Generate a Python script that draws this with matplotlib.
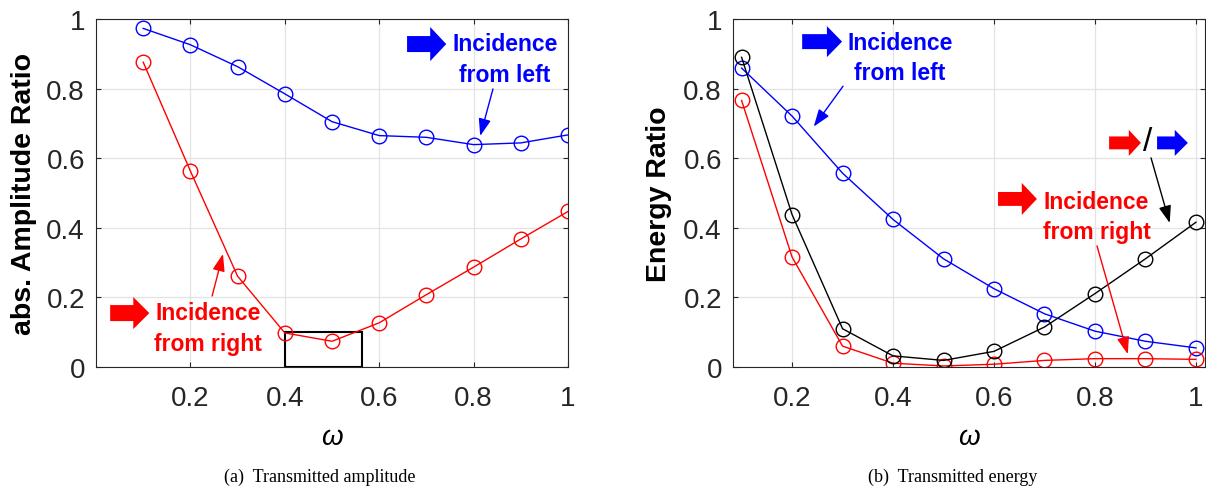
import matplotlib
matplotlib.use("Agg")
import matplotlib.pyplot as plt
import matplotlib.patches as mpatches

plt.rcParams['font.family'] = ['Liberation Sans', 'DejaVu Sans']

# frequencies
omega = [0.1, 0.2, 0.3, 0.4, 0.5, 0.6, 0.7, 0.8, 0.9, 1.0]

# (a) transmitted amplitude
amp_left = [0.973, 0.926, 0.863, 0.785, 0.705, 0.665, 0.660, 0.639, 0.644, 0.667]
amp_right = [0.876, 0.563, 0.261, 0.098, 0.074, 0.127, 0.208, 0.287, 0.368, 0.447]

# (b) transmitted energy
energy_left = [0.859, 0.721, 0.557, 0.424, 0.311, 0.225, 0.153, 0.103, 0.074, 0.055]
energy_right = [0.766, 0.316, 0.060, 0.011, 0.003, 0.008, 0.019, 0.024, 0.024, 0.022]
energy_ratio = [0.890, 0.438, 0.110, 0.032, 0.019, 0.045, 0.115, 0.211, 0.311, 0.416]

xticks = [0.2, 0.4, 0.6, 0.8, 1.0]
xtick_labels = ["0.2", "0.4", "0.6", "0.8", "1"]
yticks = [0, 0.2, 0.4, 0.6, 0.8, 1.0]
ytick_labels = ["0", "0.2", "0.4", "0.6", "0.8", "1"]

DARK = "#262626"


def style_axes(ax, xlim):
    ax.set_xlim(*xlim)
    ax.set_ylim(0, 1)
    ax.set_xticks(xticks)
    ax.set_xticklabels(xtick_labels)
    ax.set_yticks(yticks)
    ax.set_yticklabels(ytick_labels)
    ax.grid(True, color="#e3e3e3", lw=0.9)
    ax.set_axisbelow(True)
    for s in ax.spines.values():
        s.set_color(DARK)
        s.set_linewidth(0.8)
    ax.tick_params(direction="in", length=3.5, width=0.8, color=DARK,
                   labelsize=20, labelcolor=DARK, top=True, right=True)
    ax.tick_params(axis="x", pad=13)
    ax.tick_params(axis="y", pad=8)


def curve(ax, y, color):
    ax.plot(omega, y, "-o", color=color, lw=1.0, ms=10.5, mfc="none", mew=1.0)


def block_arrow(ax, x, y, length, head_len, width, head_w, color):
    ax.add_patch(mpatches.FancyArrow(x, y, length, 0, width=width, head_width=head_w,
                                     head_length=head_len, length_includes_head=True,
                                     color=color, lw=0))


def thin_arrow(ax, start, end, color):
    ax.annotate("", xy=end, xytext=start,
                arrowprops=dict(arrowstyle="-|>,head_length=0.7,head_width=0.25",
                                color=color, lw=1.0, mutation_scale=15,
                                shrinkA=0, shrinkB=0))


def label(ax, x, y, s, color):
    ax.text(x, y, s, color=color, fontsize=16.5, fontweight="bold", ha="center",
            va="center", linespacing=1.4)


fig = plt.figure(figsize=(12.06, 4.89), dpi=100)
ax1 = fig.add_axes([0.0796, 0.2474, 0.3914, 0.7117])
ax2 = fig.add_axes([0.6078, 0.2474, 0.3914, 0.7117])

# ---- (a) amplitude
style_axes(ax1, (0, 1))
curve(ax1, amp_left, "blue")
curve(ax1, amp_right, "red")
ax1.add_patch(mpatches.Rectangle((0.4, 0), 0.1625, 0.101, fill=False, ec="black", lw=1.5))

block_arrow(ax1, 0.659, 0.928, 0.083, 0.034, 0.046, 0.098, "blue")
label(ax1, 0.866, 0.885, "Incidence\nfrom left", "blue")
thin_arrow(ax1, (0.841, 0.799), (0.814, 0.664), "blue")

block_arrow(ax1, 0.030, 0.155, 0.083, 0.034, 0.046, 0.092, "red")
label(ax1, 0.237, 0.112, "Incidence\nfrom right", "red")
thin_arrow(ax1, (0.246, 0.204), (0.269, 0.325), "red")

ax1.set_ylabel("abs. Amplitude Ratio", fontsize=20.5, fontweight="bold", color="black")
ax1.yaxis.set_label_coords(-0.125, 0.5)
ax1.set_xlabel("ω", fontsize=20, fontstyle="italic", color="black", va="baseline")
ax1.xaxis.set_label_coords(0.5, -0.22)

# ---- (b) energy
style_axes(ax2, (0.083, 1.018))
curve(ax2, energy_left, "blue")
curve(ax2, energy_right, "red")
curve(ax2, energy_ratio, "black")

block_arrow(ax2, 0.220, 0.935, 0.079, 0.030, 0.043, 0.089, "blue")
label(ax2, 0.414, 0.890, "Incidence\nfrom left", "blue")
thin_arrow(ax2, (0.301, 0.807), (0.243, 0.691), "blue")

block_arrow(ax2, 0.608, 0.483, 0.077, 0.030, 0.040, 0.092, "red")
label(ax2, 0.803, 0.432, "Incidence\nfrom right", "red")
thin_arrow(ax2, (0.804, 0.348), (0.865, 0.037), "red")

block_arrow(ax2, 0.828, 0.644, 0.063, 0.024, 0.037, 0.075, "red")
ax2.text(0.904, 0.648, "/", fontsize=24, color="black",
         ha="center", va="center")
block_arrow(ax2, 0.923, 0.644, 0.061, 0.026, 0.037, 0.075, "blue")
thin_arrow(ax2, (0.911, 0.601), (0.948, 0.414), "black")

ax2.set_ylabel("Energy Ratio", fontsize=20.5, fontweight="bold", color="black")
ax2.yaxis.set_label_coords(-0.129, 0.5)
ax2.set_xlabel("ω", fontsize=20, fontstyle="italic", color="black", va="baseline")
ax2.xaxis.set_label_coords(0.5, -0.22)

# sub-figure captions
fig.text(0.265, 0.0143, "(a)  Transmitted amplitude", family="Liberation Serif",
         fontsize=13, ha="center", va="baseline")
fig.text(0.790, 0.0143, "(b)  Transmitted energy", family="Liberation Serif",
         fontsize=13, ha="center", va="baseline")

fig.savefig("out.png", dpi=100)
plt.close(fig)
